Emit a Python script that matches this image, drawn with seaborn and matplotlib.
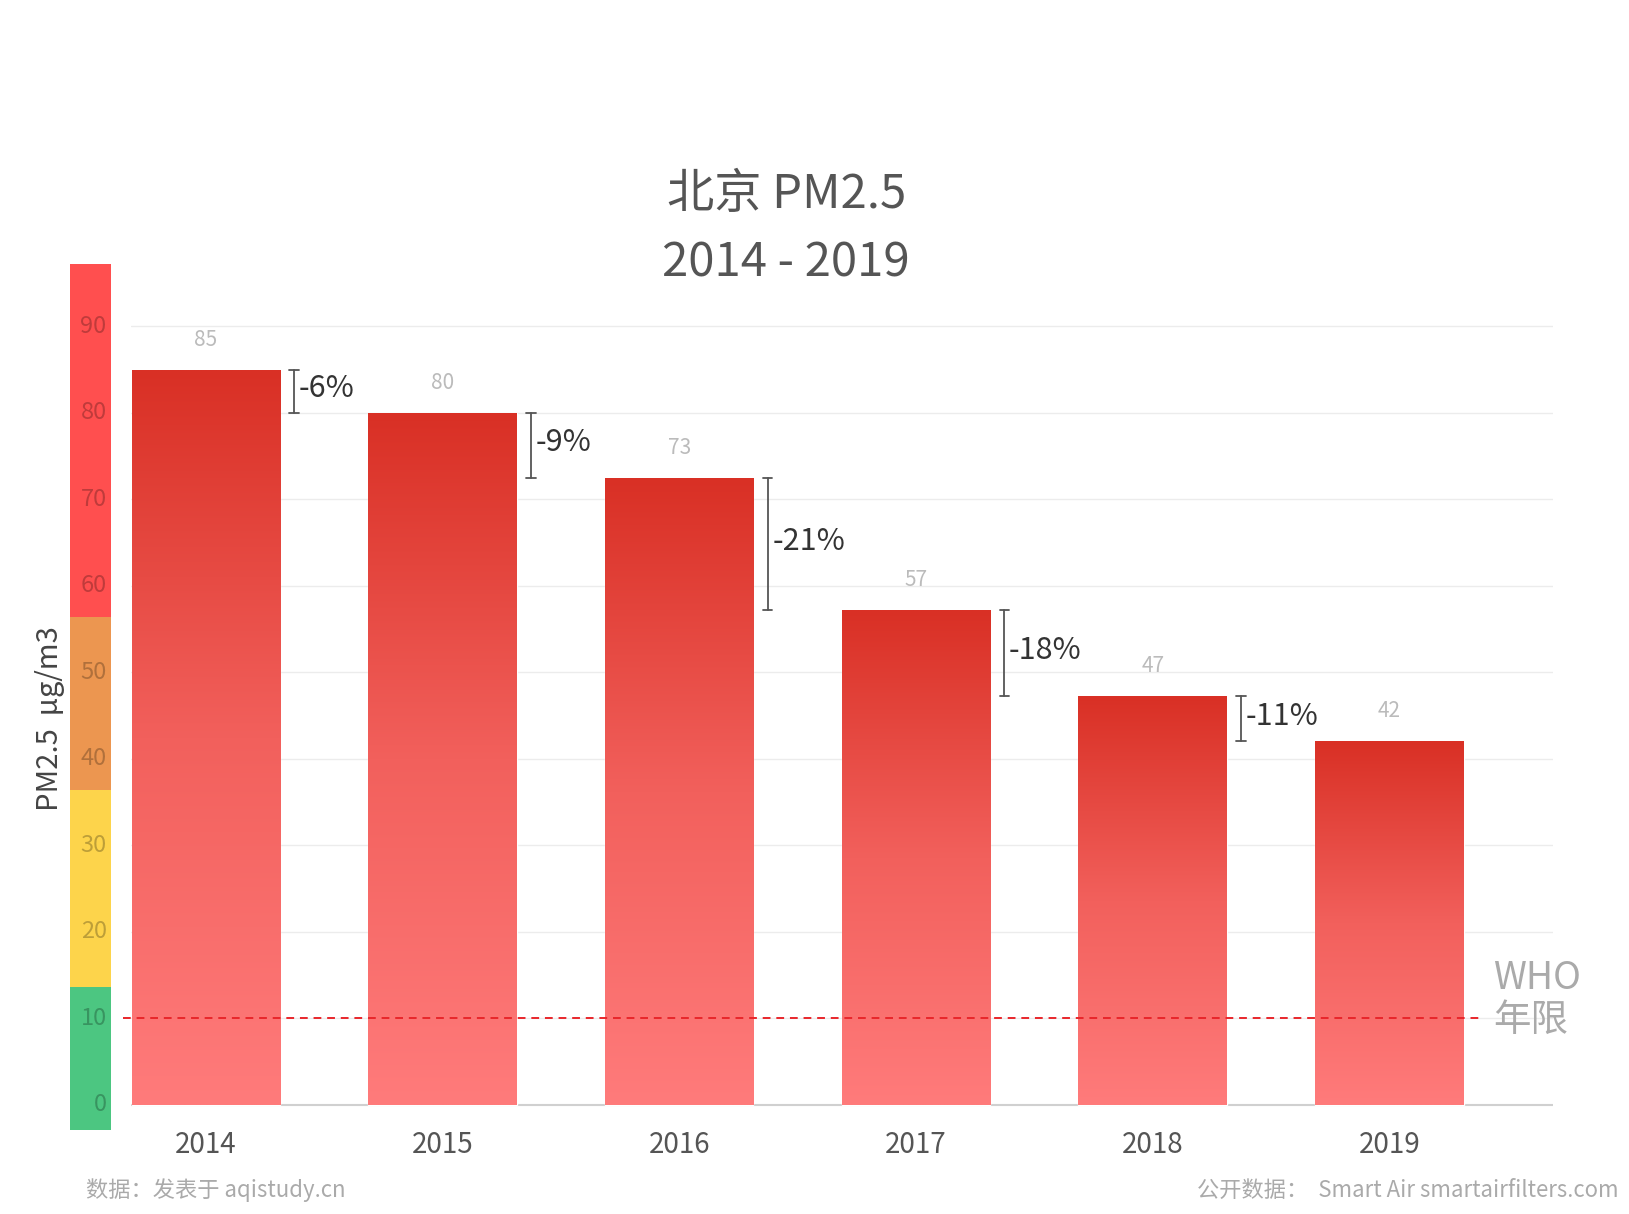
import numpy as np
import matplotlib
matplotlib.use("Agg")
import matplotlib.pyplot as plt
import seaborn as sns
import pandas as pd
from matplotlib.colors import LinearSegmentedColormap

years = ["2014", "2015", "2016", "2017", "2018", "2019"]
values = [85, 80, 72.5, 57.2, 47.2, 42]
value_labels = ["85", "80", "73", "57", "47", "42"]
changes = ["-6%", "-9%", "-21%", "-18%", "-11%"]
who_limit = 10
yticks = [0, 10, 20, 30, 40, 50, 60, 70, 80, 90]
bands = [(-3, 13.6, "#4cc681"), (13.6, 36.4, "#fdd44b"), (36.4, 56.4, "#ec9650"), (56.4, 97.2, "#ff4f4f")]

sns.set_theme(style="white")
plt.rcParams['font.family'] = ['Noto Sans CJK SC', 'DejaVu Sans']

W, H = 1560, 1163
fig = plt.figure(figsize=(16.29, 12.14), dpi=100)
def fx(x): return x / W
def fy(y): return 1 - y / H

ymin, ymax = -3, 97.2
ax = fig.add_axes([fx(125), fy(1083), fx(1487) - fx(125), fy(253) - fy(1083)])
df = pd.DataFrame({"year": years, "val": values})
sns.barplot(data=df, x="year", y="val", ax=ax, width=0.627, color="#ff7b7b", saturation=1)
for s in ax.spines.values():
    s.set_visible(False)
for t in yticks[1:]:
    ax.axhline(t, color="#ececec", lw=1, zorder=0)
ax.axhline(0, color="#d0d0d0", lw=1.5, zorder=0)
ax.set_yticks([])
ax.set_xlabel("")
ax.set_ylabel("")
ax.tick_params(axis="x", length=0, labelsize=20, labelcolor="#555555", pad=0)

cmap = LinearSegmentedColormap.from_list("g", ["#ff7b7b", "#f2605c", "#d93025"])
grad = np.linspace(0, 1, 256).reshape(-1, 1)
for p in ax.patches:
    x0, w, h = p.get_x(), p.get_width(), p.get_height()
    im = ax.imshow(grad, extent=[x0, x0 + w, 0, h], origin="lower", cmap=cmap, aspect="auto", zorder=2)
    im.set_clip_path(p)
    p.set_facecolor("none")
ax.set_xlim(-0.318, 5.69)
ax.set_ylim(ymin, ymax)

for i, (v, lab) in enumerate(zip(values, value_labels)):
    ax.text(i, v + 2.2, lab, ha="center", va="bottom", color="#bbbbbb", fontsize=15)

for i, c in enumerate(changes):
    xb = i + 0.313 + 0.06
    a, b = values[i], values[i + 1]
    ax.plot([xb, xb], [b, a], color="#555555", lw=1.3)
    for yy in (a, b):
        ax.plot([xb - 0.02, xb + 0.02], [yy, yy], color="#555555", lw=1.3)
    ax.text(xb + 0.02, (a + b) / 2 + 0.3, c, ha="left", va="center", color="#333333", fontsize=22)

ax.plot([-0.35, 5.4], [who_limit, who_limit], color="#e8262b", lw=1.4, ls=(0, (4, 3)), clip_on=False, zorder=3)
fig.text(fx(1430), fy(937), "WHO", color="#aaaaaa", fontsize=27, va="center")
fig.text(fx(1430), fy(978), "年限", color="#aaaaaa", fontsize=27, va="center")

sx = fig.add_axes([fx(67), fy(1083), fx(106) - fx(67), fy(253) - fy(1083)])
sx.set_xlim(0, 1)
sx.set_ylim(ymin, ymax)
for lo, hi, col in bands:
    sx.axhspan(lo, hi, color=col, lw=0)
sx.axis("off")
for t in yticks:
    sx.text(0.9, t, str(t), ha="right", va="center", fontsize=17, color=(0, 0, 0, 0.25))

fig.text(fx(48), fy(688), "PM2.5  μg/m3", rotation=90, ha="center", va="center", fontsize=21, color="#444444")
fig.text(fx(753), fy(187), "北京 PM2.5", ha="center", va="center", fontsize=34, color="#555555")
fig.text(fx(753), fy(252), "2014 - 2019", ha="center", va="center", fontsize=34, color="#555555")
fig.text(fx(82), fy(1140), "数据：发表于 aqistudy.cn", ha="left", va="center", fontsize=16, color="#aaaaaa")
fig.text(fx(1550), fy(1140), "公开数据：  Smart Air smartairfilters.com", ha="right", va="center", fontsize=16, color="#aaaaaa")

fig.savefig("out.png", dpi=100, facecolor="white")
